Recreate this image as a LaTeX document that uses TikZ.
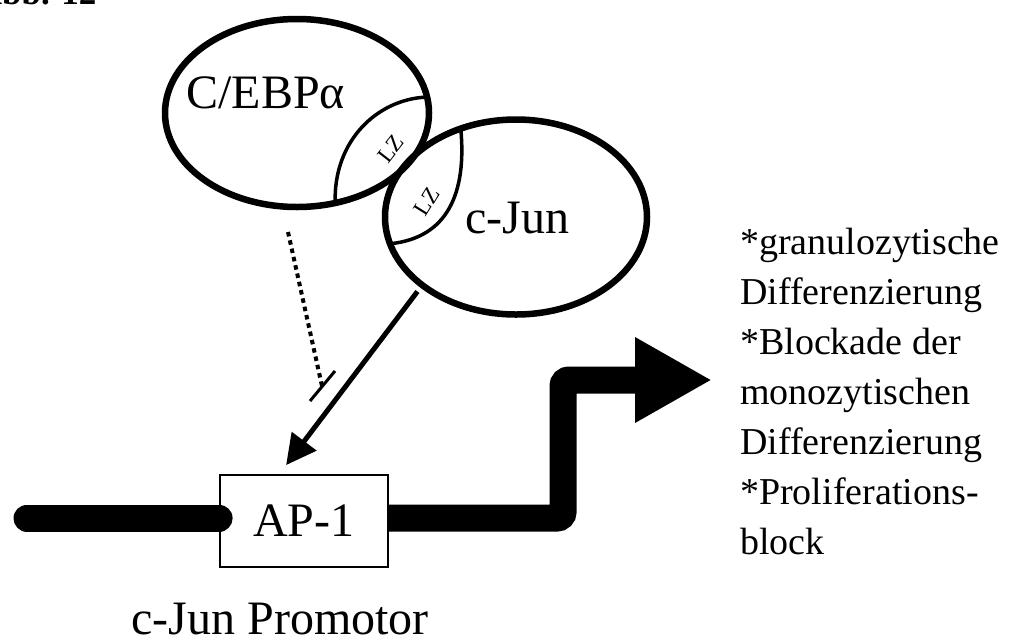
\documentclass[tikz,border=0pt]{standalone}
\usepackage{fontspec}
\setmainfont{Liberation Serif}
\usetikzlibrary{arrows.meta,positioning,calc,shapes.geometric}
\tikzset{
  every picture/.style={font=\fontsize{48}{56}\selectfont},
  prot/.style={draw,ellipse,line width=6.5pt,inner sep=0pt,outer sep=0pt},
  lz/.style={line width=3.5pt},
  lztext/.style={font=\fontsize{23}{25}\selectfont,inner sep=0pt},
  act/.style={line width=5pt,-{Triangle[length=30pt,width=30pt]}},
  inh/.style={line width=4pt,dash pattern=on 4.5pt off 4pt},
  dna/.style={line width=27pt,rounded corners=6pt},
  tfbox/.style={draw,line width=1.8pt,fill=white,minimum width=168pt,minimum height=92pt,inner sep=0pt},
}
\begin{document}
\begin{tikzpicture}[x=1pt,y=-1pt]
  \useasboundingbox (0,0) rectangle (1016,643);
  % figure number, cut by the page edge
  \node[anchor=base east,font=\fontsize{35}{40}\selectfont\bfseries] (fignum) at (100,4) {Abb. 12};
  % proteins
  \node[prot,minimum width=264pt,minimum height=188pt] (cebp) at (297,113) {};
  \node[prot,minimum width=262pt,minimum height=195pt] (cjun) at (516,217) {};
  \node[anchor=base west] (cebplabel) at (183,108) {C/EBPα};
  \node[anchor=base west] (cjunlabel) at (462,233) {c-Jun};
  % leucine zippers
  \draw[lz] (cebp.7) .. controls +(-50,2) and +(-2,-62) .. (cebp.-67);
  \draw[lz] (cjun.122) .. controls +(6,64) and +(58,-6) .. (cjun.192);
  \node[lztext,rotate=52] (lzcebp) at (391,149) {LZ};
  \node[lztext,rotate=58] (lzcjun) at (427,202) {LZ};
  % promoter
  \node[tfbox] (ap1) at (304,521) {AP-1};
  \coordinate (dnastart) at (27,518);
  \coordinate (dnabend) at (563,518);
  \coordinate (dnaend) at (712,380);
  \draw[dna,line cap=round] (dnastart) -- (dnastart -| ap1.west);
  \draw[dna,-{Triangle[length=77pt,width=80pt]}] (dnabend -| ap1.east) -- (dnabend) |- (dnaend);
  \node[anchor=base west] (promlabel) at (128,634) {c-Jun Promotor};
  % activation and inhibition
  \draw[act,shorten <=8pt] (cjun.216) -- ($(ap1.north west)+(67,-9)$);
  \coordinate (inhstart) at (288,232);
  \coordinate (inhend) at (322,386);
  \draw[inh] (inhstart) -- (inhend);
  \draw[line width=3pt] ($(inhend)+(-12,15)$) -- ($(inhend)+(13,-15)$);
  % outcome
  \node[anchor=north west,align=left,inner sep=0pt,font=\fontsize{38}{50}\selectfont] (effects) at (740,228)
    {*granulozytische\\Differenzierung\\*Blockade der\\monozytischen\\Differenzierung\\*Proliferations-\\block};
\end{tikzpicture}
\end{document}
